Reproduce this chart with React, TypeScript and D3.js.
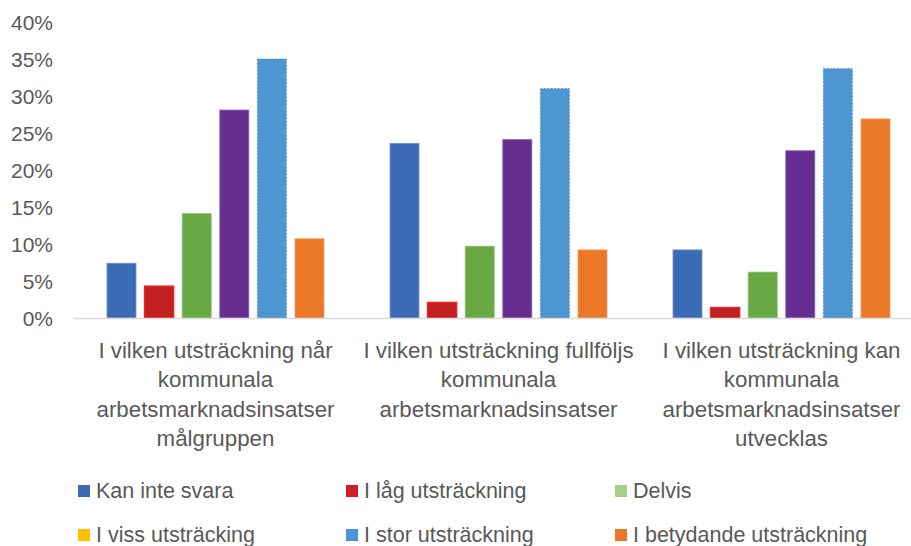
import React from "react";
import * as d3 from "d3";

const categories = [
  ["I vilken utsträckning når", "kommunala", "arbetsmarknadsinsatser", "målgruppen"],
  ["I vilken utsträckning fullföljs", "kommunala", "arbetsmarknadsinsatser"],
  ["I vilken utsträckning kan", "kommunala", "arbetsmarknadsinsatser", "utvecklas"],
];
const seriesNames = [
  "Kan inte svara",
  "I låg utsträckning",
  "Delvis",
  "I viss utsträcking",
  "I stor utsträckning",
  "I betydande utsträckning",
];
const kanInteSvara = [7.4, 23.6, 9.2];
const iLag = [4.3, 2.1, 1.4];
const delvis = [14.1, 9.7, 6.2];
const iViss = [28.1, 24.1, 22.6];
const iStor = [35.0, 31.0, 33.7];
const iBetydande = [10.7, 9.2, 26.9];
const seriesValues = [kanInteSvara, iLag, delvis, iViss, iStor, iBetydande];
const yTicks = [0, 5, 10, 15, 20, 25, 30, 35, 40];

const barFill = ["#3c6bb5", "#c0201f", "#68a944", "#662e91", "#4e96d1", "#ea7826"];
const barStroke = ["#6f90c9", "#ee2028", "#8cbf6f", "#8a5aab", "#3d7fb8", "#ef9a5c"];
const legendFill = ["#3c6bb5", "#d21e26", "#a5d08a", "#ffc000", "#4e96d1", "#ea7826"];

const FONT = "'Liberation Sans Narrow', 'Arial Narrow', 'Liberation Sans', sans-serif";

export default function App() {
  const W = 911, H = 546;
  const x0 = d3.scaleBand<number>().domain([0, 1, 2]).range([74, 923]).padding(0);
  const x1 = d3
    .scaleBand<number>()
    .domain(d3.range(6))
    .range([0, x0.bandwidth()])
    .paddingInner(0.229)
    .paddingOuter(0.878);
  const y = d3.scaleLinear().domain([0, 40]).range([318, 22]);

  return (
    <svg width={W} height={H} style={{ position: "absolute", left: 0, top: 0, background: "#fff" }}>
      {yTicks.map((t) => (
        <text
          key={t}
          x={53}
          y={y(t)}
          textAnchor="end"
          dominantBaseline="central"
          fontFamily={FONT}
          fontSize={21}
          fill="#595959"
        >
          {t}%
        </text>
      ))}
      {categories.map((c, ci) =>
        seriesValues.map((vals, si) => {
          const bx = (x0(ci) as number) + (x1(si) as number);
          return (
            <rect
              key={`${ci}-${si}`}
              x={bx}
              y={y(vals[ci])}
              width={x1.bandwidth()}
              height={y(0) - y(vals[ci])}
              fill={barFill[si]}
              stroke={barStroke[si]}
              strokeWidth={si === 1 ? 1.5 : 0.8}
              strokeDasharray={si === 4 ? "1.5 2" : undefined}
            />
          );
        })
      )}
      <line x1={74} x2={911} y1={318.5} y2={318.5} stroke="#d9d9d9" strokeWidth={1.5} />
      {categories.map((lines, ci) => (
        <text
          key={ci}
          x={(x0(ci) as number) + x0.bandwidth() / 2}
          textAnchor="middle"
          fontFamily={FONT}
          fontSize={22.3}
          fill="#595959"
        >
          {lines.map((l, li) => (
            <tspan key={li} x={(x0(ci) as number) + x0.bandwidth() / 2} y={350 + li * 29.5} dominantBaseline="central">
              {l}
            </tspan>
          ))}
        </text>
      ))}
      {seriesNames.map((n, i) => {
        const col = i % 3;
        const row = Math.floor(i / 3);
        const lx = [78, 346, 615][col];
        const ly = [491, 535][row];
        return (
          <g key={n}>
            <rect x={lx} y={ly - 6} width={12} height={12} fill={legendFill[i]} />
            <text x={lx + 18} y={ly} dominantBaseline="central" fontFamily={FONT} fontSize={21.5} fill="#595959">
              {n}
            </text>
          </g>
        );
      })}
    </svg>
  );
}
